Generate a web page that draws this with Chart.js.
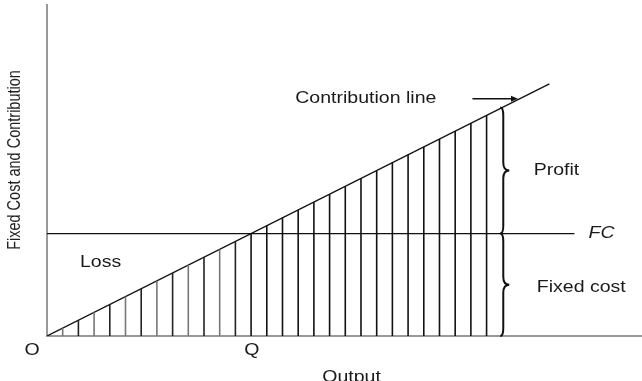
<!DOCTYPE html>
<html>
<head>
<meta charset="utf-8">
<script src="https://cdn.jsdelivr.net/npm/chart.js@4.4.0/dist/chart.umd.min.js"></script>
<style>
  html, body { margin: 0; padding: 0; background: #fff; }
  #wrap { width: 642px; height: 381px; position: relative; }
</style>
</head>
<body>
<div id="wrap"><canvas id="breakEvenChart"></canvas></div>
<script>
// output units along x, contribution in the same units along y
const contribOutput = [0, 32];
const contribValue = [0, 32];
const fixedCost = 13;
const fcLineEnd = 33.6;
const breakEvenQ = 13;
// hatch lines under the contribution line
const hatchX = [1, 2, 3, 4, 5, 6, 7, 8, 9, 10, 11, 12, 13, 14, 15, 16, 17, 18, 19, 20, 21, 22, 23, 24, 25, 26, 27, 28];
const hatchTop = [1, 2, 3, 4, 5, 6, 7, 8, 9, 10, 11, 12, 13, 14, 15, 16, 17, 18, 19, 20, 21, 22, 23, 24, 25, 26, 27, 28];
const braceX = 29;
const braceTop = 29;

const labels = [
    { text: 'Contribution line', x: 24.8, y: 30.1, align: 'right' },
    { text: 'Profit', x: 31.0, y: 21.0, align: 'left' },
    { text: 'FC', x: 34.5, y: 13.0, align: 'left', italic: true },
    { text: 'Fixed cost', x: 31.2, y: 6.1, align: 'left' },
    { text: 'Loss', x: 2.1, y: 9.3, align: 'left' },
    { text: 'O', x: -0.95, y: -1.8, align: 'center' },
    { text: 'Q', x: 13.05, y: -1.8, align: 'center' },
    { text: 'Output', x: 19.4, y: -5.3, align: 'center' }
];

const datasets = [];
hatchX.forEach((x, i) => {
    datasets.push({
        data: [{ x: x, y: 0 }, { x: x, y: hatchTop[i] }],
        borderColor: x < breakEvenQ ? (i % 2 ? '#222' : '#777') : '#111',
        borderWidth: 1.6
    });
});
datasets.push({
    data: contribOutput.map((x, i) => ({ x: x, y: contribValue[i] })),
    borderColor: '#111',
    borderWidth: 1.3
});
datasets.push({
    data: [{ x: 0, y: fixedCost }, { x: fcLineEnd, y: fixedCost }],
    borderColor: '#111',
    borderWidth: 1.3
});

function stretchedText(ctx, text, px, py, align, italic) {
    ctx.save();
    ctx.font = (italic ? 'italic ' : '') + '16px "Liberation Sans", Arial, sans-serif';
    ctx.fillStyle = '#1a1a1a';
    ctx.textBaseline = 'middle';
    ctx.translate(px, py);
    ctx.scale(1.22, 1);
    ctx.textAlign = align;
    ctx.fillText(text, 0, 0);
    ctx.restore();
}

function brace(ctx, x, yTop, yBot) {
    const mid = (yTop + yBot) / 2;
    const w = 7;
    ctx.beginPath();
    ctx.moveTo(x - 2, yTop);
    ctx.quadraticCurveTo(x + 1, yTop, x + 1, yTop + 8);
    ctx.lineTo(x + 1, mid - 8);
    ctx.quadraticCurveTo(x + 1, mid, x + w, mid);
    ctx.quadraticCurveTo(x + 1, mid, x + 1, mid + 8);
    ctx.lineTo(x + 1, yBot - 8);
    ctx.quadraticCurveTo(x + 1, yBot, x - 2, yBot);
    ctx.stroke();
}

const annotations = {
    id: 'annotations',
    afterDatasetsDraw(chart) {
        const ctx = chart.ctx;
        const xs = chart.scales.x, ys = chart.scales.y;

        ctx.save();
        ctx.strokeStyle = '#111';
        ctx.lineWidth = 2;
        const bx = xs.getPixelForValue(braceX);
        brace(ctx, bx, ys.getPixelForValue(braceTop), ys.getPixelForValue(fixedCost));
        brace(ctx, bx, ys.getPixelForValue(fixedCost), ys.getPixelForValue(0));

        // arrow to the contribution line
        const ay = ys.getPixelForValue(30.1);
        const ax0 = xs.getPixelForValue(27.1), ax1 = xs.getPixelForValue(30.0);
        ctx.lineWidth = 1.4;
        ctx.beginPath();
        ctx.moveTo(ax0, ay);
        ctx.lineTo(ax1 - 4, ay);
        ctx.stroke();
        ctx.fillStyle = '#111';
        ctx.beginPath();
        ctx.moveTo(ax1, ay);
        ctx.lineTo(ax1 - 7, ay - 3);
        ctx.lineTo(ax1 - 7, ay + 3);
        ctx.closePath();
        ctx.fill();
        ctx.restore();

        labels.forEach(l => {
            stretchedText(ctx, l.text, xs.getPixelForValue(l.x), ys.getPixelForValue(l.y), l.align, l.italic);
        });

        // y axis title
        ctx.save();
        ctx.translate(15, 160);
        ctx.rotate(-Math.PI / 2);
        ctx.scale(1, 1.3);
        ctx.font = '14.5px "Liberation Sans", Arial, sans-serif';
        ctx.fillStyle = '#222';
        ctx.textAlign = 'center';
        ctx.textBaseline = 'middle';
        ctx.fillText('Fixed Cost and Contribution', 0, 0);
        ctx.restore();
    }
};

const ctx = document.getElementById('breakEvenChart').getContext('2d');
new Chart(ctx, {
    type: 'scatter',
    data: { datasets: datasets },
    options: {
        responsive: true,
        maintainAspectRatio: false,
        animation: false,
        showLine: true,
        layout: { padding: { left: 47, top: 5, right: 0, bottom: 45 } },
        elements: { point: { radius: 0, hoverRadius: 0 }, line: { tension: 0 } },
        plugins: { legend: { display: false }, tooltip: { enabled: false } },
        scales: {
            x: {
                type: 'linear', min: 0, max: 37.9,
                grid: { display: false, drawTicks: false },
                border: { display: true, color: '#999', width: 2 },
                ticks: { display: false }
            },
            y: {
                type: 'linear', min: 0, max: 42,
                grid: { display: false, drawTicks: false },
                border: { display: true, color: '#999', width: 2 },
                ticks: { display: false }
            }
        }
    },
    plugins: [annotations]
});
</script>
</body>
</html>
